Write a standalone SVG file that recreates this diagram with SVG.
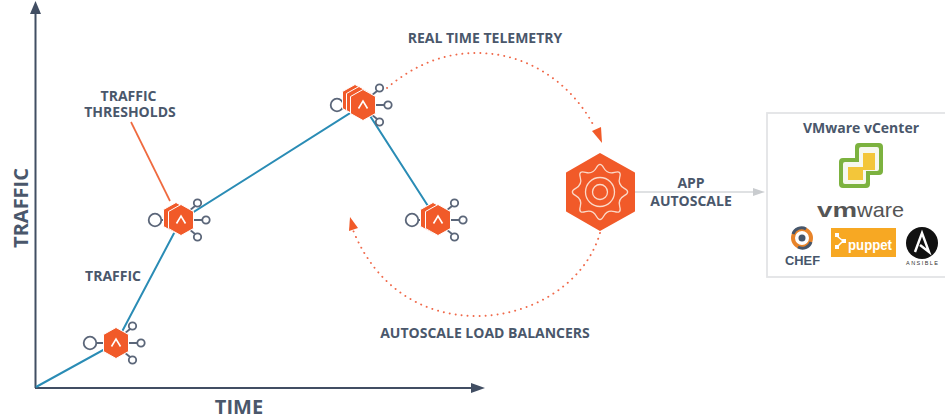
<svg xmlns="http://www.w3.org/2000/svg" width="945" height="417" viewBox="0 0 945 417">
<style>
.t{font-family:"Open Sans","Noto Sans","Liberation Sans",sans-serif;font-weight:700;fill:#4a576b;font-size:14px;text-anchor:middle}
.ax{font-size:20px}
.hex{fill:#f15a29;stroke:#fff;stroke-width:1;stroke-linejoin:round}
.car{fill:none;stroke:#fff;stroke-width:1.6}
.sp{stroke:#5b6679;stroke-width:1.8;fill:#fff}
.dot{fill:none;stroke:#f0694a;stroke-width:1.900;stroke-dasharray:.1 5.900;stroke-linecap:round}
.line{stroke:#2a8cb5;stroke-width:2;fill:none}
.axis{stroke:#414e63;stroke-width:2;fill:none}
.gear{fill:none;stroke:#fbd9c8;stroke-width:1.300}
.logo{font-family:"Liberation Sans",sans-serif}
</style>
<defs>
<g id="spokes">
<path class="sp" d="M-20 0H-10M11 0H22M8-9L14-14M8 9L14 14"/>
<circle class="sp" cx="-26" cy="0" r="6.300"/>
<circle class="sp" cx="25" cy="0" r="3.700"/>
<circle class="sp" cx="16.500" cy="-17" r="3.700"/>
<circle class="sp" cx="16.500" cy="17" r="3.700"/>
</g>
<path id="hexa" d="M0-15.500L12.500-8.500V8.500L0 15.500L-12.500 8.500V-8.500Z"/>
<path id="caret" d="M-4.500 3.500L0-4L4.500 3.500"/>
</defs>
<rect width="945" height="417" fill="#fff"/>
<g id="connectors">
<path class="axis" d="M35.500 388V8"/>
<path d="M35.500 1L30 14H41Z" fill="#414e63"/>
<path class="axis" d="M35 388H475"/>
<path d="M485 388L471 383V393Z" fill="#414e63"/>
<path class="line" d="M36 387L116 343L181 220L363 105L437 220"/>
<path d="M131 122L170 201" stroke="#ef6a3f" stroke-width="1.700" fill="none"/>
<path class="dot" d="M387 88C415 64 445 53 477 53C525 53 570 80 595 128"/>
<path d="M602 143L592 131L601 127Z" fill="#f15a29"/>
<path class="dot" d="M600 233C585 285 530 316 477 316C420 316 375 285 353 230"/>
<path d="M350 217L349 231L358 228Z" fill="#f15a29"/>
<path d="M635 192H755" stroke="#d5d7da" stroke-width="1.500" fill="none"/>
<path d="M765 192L753 188V196Z" fill="#c9cccf"/>
</g>
<g id="node-1">
<use href="#spokes" x="116" y="343"/>
<use href="#hexa" class="hex" x="116" y="343"/>
<use href="#caret" class="car" x="116" y="343"/>
</g>
<g id="node-2">
<use href="#spokes" x="181" y="220"/>
<use href="#hexa" class="hex" x="176" y="218"/>
<use href="#hexa" class="hex" x="181" y="220"/>
<use href="#caret" class="car" x="181" y="220"/>
</g>
<g id="node-3">
<use href="#spokes" x="363" y="105"/>
<use href="#hexa" class="hex" x="355" y="100"/>
<use href="#hexa" class="hex" x="359" y="102"/>
<use href="#hexa" class="hex" x="363" y="105"/>
<use href="#caret" class="car" x="363" y="105"/>
</g>
<g id="node-4">
<use href="#spokes" x="438" y="220"/>
<use href="#hexa" class="hex" x="433" y="218"/>
<use href="#hexa" class="hex" x="438" y="220"/>
<use href="#caret" class="car" x="438" y="220"/>
</g>
<g id="controller">
<path d="M600 154L634 173V211L600 230L567 211V173Z" fill="#f15a29" stroke="#f15a29" stroke-width="2" stroke-linejoin="round"/>
<g transform="translate(600 192)">
<path class="gear" d="M24.280-3.640Q31 0 24.280 3.640T19.720 14.580T14.580 19.720T3.640 24.280T-3.640 24.280T-14.580 19.720T-19.720 14.580T-24.280 3.640T-24.280-3.640T-19.720-14.580T-14.580-19.720T-3.640-24.280T3.640-24.280T14.580-19.720T19.720-14.580T24.280-3.640Z"/>
<circle class="gear" r="14.500"/>
<circle class="gear" r="7.500"/>
</g>
</g>
<g id="labels">
<text class="t" x="485" y="43">REAL TIME TELEMETRY</text>
<text class="t" x="485" y="338">AUTOSCALE LOAD BALANCERS</text>
<text class="t" x="113" y="281">TRAFFIC</text>
<text class="t" x="128.500" y="101">TRAFFIC</text>
<text class="t" x="130" y="117">THRESHOLDS</text>
<text class="t" x="691" y="188">APP</text>
<text class="t" x="691" y="206">AUTOSCALE</text>
<text class="t ax" x="239" y="414">TIME</text>
<text class="t ax" transform="translate(28 208) rotate(-90)">TRAFFIC</text>
</g>
<g id="vcenter">
<rect x="767" y="113" width="180" height="164" fill="#fff" stroke="#e3e4e6" stroke-width="1.800"/>
<text class="t" x="861" y="133">VMware vCenter</text>
<path d="M859 143H879Q883 143 883 147V171Q883 175 879 175H870V184Q870 188 866 188H843Q839 188 839 184V162Q839 158 843 158H855V147Q855 143 859 143Z" fill="#7cb23f"/>
<path d="M861 147H877Q879 147 879 149V169Q879 171 877 171H866V182Q866 184 864 184H845Q843 184 843 182V164Q843 162 845 162H859V149Q859 147 861 147Z" fill="#f6f8ef"/>
<path d="M863 153H875V170H863V180H848V167H863Z" fill="#f3c63a"/>
<text class="logo" x="817" y="217" font-size="21" fill="#555"><tspan font-weight="700" textLength="40" lengthAdjust="spacingAndGlyphs">vm</tspan><tspan textLength="47" lengthAdjust="spacingAndGlyphs">ware</tspan></text>
<circle cx="802" cy="238" r="9" fill="none" stroke="#e8842a" stroke-width="4"/>
<path d="M793 234A9 9 0 0 1 806 229M811 242A9 9 0 0 1 798 247" fill="none" stroke="#46566b" stroke-width="3"/>
<circle cx="802" cy="238" r="3.500" fill="#46566b"/>
<text class="logo" x="785" y="265" font-weight="700" font-size="12" fill="#46566b" textLength="35" lengthAdjust="spacingAndGlyphs">CHEF</text>
<rect x="831" y="228" width="65" height="29" fill="#f7a823"/>
<path d="M837 236L843 241L837 247" fill="none" stroke="#fff" stroke-width="1.500"/>
<rect x="835" y="233" width="4" height="4" fill="#fff"/>
<rect x="842" y="239" width="4" height="4" fill="#fff"/>
<rect x="835" y="245" width="4" height="4" fill="#fff"/>
<text class="logo" x="848" y="250" font-weight="700" font-size="14" fill="#fff" textLength="44" lengthAdjust="spacingAndGlyphs">puppet</text>
<circle cx="922" cy="243" r="16" fill="#111"/>
<path d="M915 252L922 233L929 252L920 245" fill="none" stroke="#fff" stroke-width="2.400"/>
<text class="logo" x="906" y="265" font-size="5.500" fill="#333" textLength="32">ANSIBLE</text>
</g>
</svg>
